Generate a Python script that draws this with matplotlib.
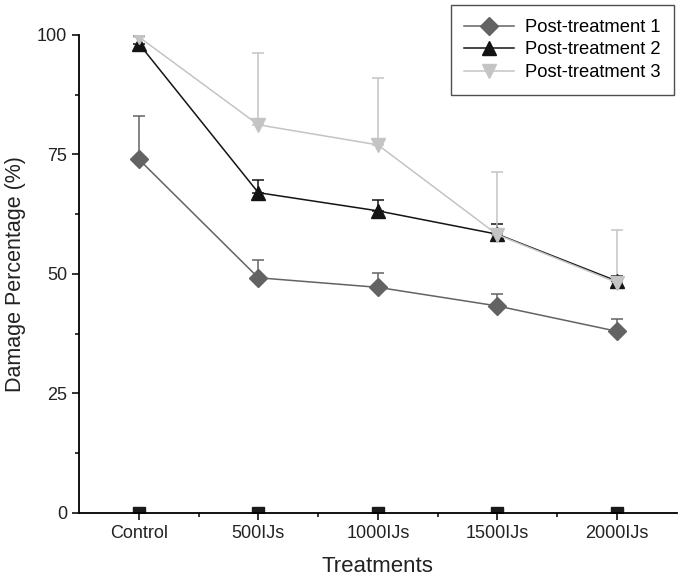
import matplotlib
matplotlib.use("Agg")
import matplotlib.pyplot as plt
from matplotlib.lines import Line2D
from matplotlib.ticker import MultipleLocator, FixedLocator

plt.rcParams['font.family'] = ['Liberation Sans', 'DejaVu Sans']

# データ
treatments = ["Control", "500IJs", "1000IJs", "1500IJs", "2000IJs"]
x_pos = [1, 2, 3, 4, 5]

baseline = [0, 0, 0, 0, 0]

post1 = [74.0, 49.2, 47.2, 43.3, 38.0]
post1_err = [9.0, 3.8, 3.0, 2.5, 2.6]

post2 = [98.2, 67.0, 63.2, 58.3, 48.5]
post2_err = [1.6, 2.7, 2.2, 2.2, 1.0]

post3 = [99.6, 81.2, 77.0, 58.2, 48.2]
post3_err = [0.4, 15.1, 14.0, 13.2, 11.0]

fig = plt.figure(figsize=(6.85, 5.82), dpi=100)
ax = fig.add_axes([0.1153, 0.1186, 0.8727, 0.8214])

# 0のベースライン（凡例なし）
ax.plot(x_pos, baseline, linestyle='none', marker='s', color='#1a1a1a',
        markersize=8, zorder=2)

series = [
    (post1, post1_err, 'D', '#636363', 'Post-treatment 1', 9),
    (post2, post2_err, '^', '#141414', 'Post-treatment 2', 10),
    (post3, post3_err, 'v', '#c4c4c4', 'Post-treatment 3', 10),
]
handles = []
for vals, errs, mk, col, lab, ms in series:
    ax.errorbar(x_pos, vals, yerr=[[0] * len(errs), errs], color=col,
                marker=mk, markersize=ms, linewidth=1.1, elinewidth=1.1,
                capsize=4, capthick=1.1, zorder=3)
    handles.append(Line2D([0], [0], color=col, marker=mk, markersize=ms,
                          linewidth=1.1, label=lab))

ax.set_xlim(0.5, 5.5)
ax.set_ylim(0, 100)
ax.set_xticks(x_pos)
ax.set_xticklabels(treatments)
ax.xaxis.set_minor_locator(FixedLocator([1.5, 2.5, 3.5, 4.5]))
ax.yaxis.set_major_locator(MultipleLocator(25))
ax.yaxis.set_minor_locator(MultipleLocator(12.5))

ax.spines['top'].set_visible(False)
ax.spines['right'].set_visible(False)
ax.spines['left'].set_linewidth(1.3)
ax.spines['bottom'].set_linewidth(1.3)
ax.tick_params(axis='both', which='major', direction='out', length=5,
               width=1.3, labelsize=13, colors='#222222')
ax.tick_params(axis='both', which='minor', direction='out', length=3,
               width=1.1)

ax.set_xlabel("Treatments", fontsize=16, color='#222222', labelpad=10)
ax.set_ylabel("Damage Percentage (%)", fontsize=15.5, color='#222222',
              labelpad=8)

leg = fig.legend(handles=handles, loc='upper right',
                 bbox_to_anchor=(0.984, 0.991), fontsize=13.2, frameon=True,
                 fancybox=False, edgecolor='#222222', handlelength=2.7,
                 handletextpad=0.6, borderpad=0.75, labelspacing=0.3,
                 borderaxespad=0)
leg.get_frame().set_linewidth(1.0)

fig.savefig("out.png", dpi=100)
